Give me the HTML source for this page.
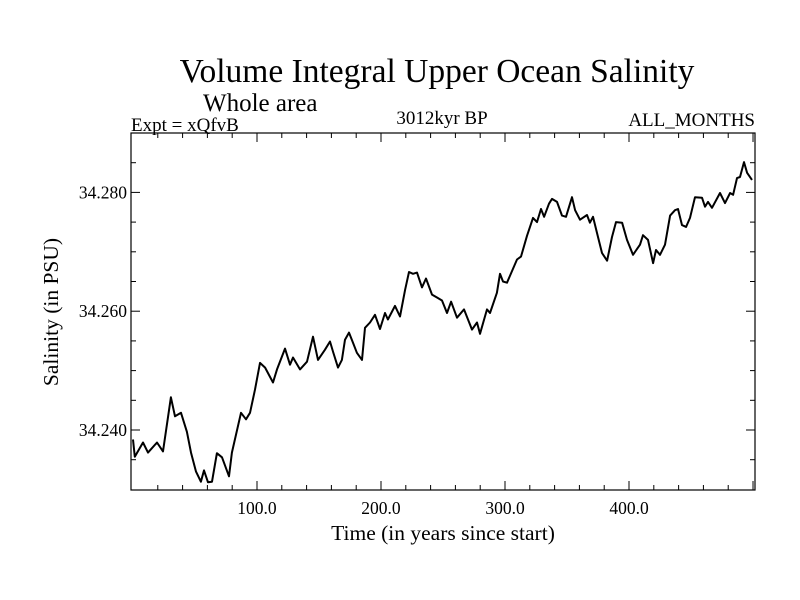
<!DOCTYPE html>
<html><head><meta charset="utf-8"><style>
body{margin:0;background:#fff;}
svg{display:block;font-family:"Liberation Serif",serif;}
</style></head><body>
<svg id="chart" width="800" height="600">
<text x="437" y="82" font-size="33.5" text-anchor="middle">Volume Integral Upper Ocean Salinity</text>
<text x="203" y="111" font-size="25">Whole area</text>
<text x="131" y="131" font-size="19">Expt = xQfvB</text>
<text x="442" y="124" font-size="19" text-anchor="middle">3012kyr BP</text>
<text x="755" y="126" font-size="19" text-anchor="end">ALL_MONTHS</text>
<text x="443" y="540" font-size="21.5" text-anchor="middle">Time (in years since start)</text>
<text transform="translate(58,312) rotate(-90)" font-size="21.5" text-anchor="middle">Salinity (in PSU)</text>
<rect x="131" y="133" width="624" height="357" fill="none" stroke="#000" stroke-width="1.2"/>
<g id="ticks"></g>
<path id="line" fill="none" stroke="#000" stroke-width="2" stroke-linejoin="round"/>
</svg>
<script>
const years=[0,1.5,8.1,12.1,19.4,24.2,30.6,33.9,38.7,43.5,46.8,50.8,54.8,57.3,60.5,63.7,67.7,71.8,77.4,79.8,87.1,91.1,94.4,98.4,102.4,106.5,112.9,116.1,122.6,126.6,129.0,134.7,140.3,145.2,149.2,154.8,158.9,161.3,165.3,168.5,171.0,174.2,177.4,180.6,184.7,187.1,191.1,195.2,199.2,203.2,205.6,211.3,215.3,219.4,222.6,225.8,229.0,233.1,236.3,241.1,245.2,249.2,253.2,256.5,261.3,266.9,273.4,277.4,279.8,285.5,287.9,293.5,296.0,298.4,301.6,309.7,312.9,317.7,322.6,325.8,329.0,331.5,335.5,337.9,341.9,346.0,349.2,354.0,356.5,360.5,366.1,368.5,371.0,375.0,378.2,382.3,386.3,389.5,394.4,398.4,403.2,408.9,411.3,415.3,419.4,421.8,425.0,429.0,433.1,437.1,439.5,442.7,446.0,449.2,453.2,458.9,461.3,463.7,466.9,473.4,477.4,481.5,483.9,487.1,489.5,492.7,495.2,499.2];
const salinity=[34.2384,34.2355,34.2379,34.2362,34.2379,34.2364,34.2455,34.2423,34.2429,34.2397,34.2362,34.2330,34.2313,34.2332,34.2312,34.2313,34.2361,34.2354,34.2322,34.2362,34.2429,34.2418,34.2429,34.2468,34.2513,34.2505,34.2480,34.2502,34.2537,34.2510,34.2522,34.2502,34.2515,34.2557,34.2518,34.2535,34.2549,34.2532,34.2505,34.2518,34.2552,34.2564,34.2547,34.2530,34.2518,34.2572,34.2581,34.2594,34.2570,34.2597,34.2586,34.2609,34.2591,34.2636,34.2666,34.2663,34.2665,34.2640,34.2655,34.2628,34.2623,34.2618,34.2597,34.2616,34.2589,34.2603,34.2569,34.2581,34.2562,34.2603,34.2597,34.2631,34.2663,34.2650,34.2648,34.2687,34.2692,34.2727,34.2757,34.2750,34.2772,34.2759,34.2781,34.2789,34.2784,34.2761,34.2759,34.2792,34.2770,34.2754,34.2762,34.2749,34.2759,34.2725,34.2698,34.2685,34.2725,34.2750,34.2749,34.2720,34.2695,34.2712,34.2728,34.2720,34.2681,34.2703,34.2695,34.2712,34.2761,34.2770,34.2772,34.2745,34.2742,34.2757,34.2792,34.2791,34.2776,34.2784,34.2774,34.2799,34.2782,34.2799,34.2796,34.2824,34.2826,34.2851,34.2833,34.2821];
const xMajor=[100,200,300,400];
const xTickLabels=["100.0","200.0","300.0","400.0"];
const yMajor=[34.24,34.26,34.28];
const yTickLabels=["34.240","34.260","34.280"];
const X0=131,X1=755,Y0=133,Y1=490,xMin=-1.6,xMax=501.6,yMin=34.2299,yMax=34.29;
const sx=v=>X0+(v-xMin)/(xMax-xMin)*(X1-X0);
const sy=v=>Y1-(v-yMin)/(yMax-yMin)*(Y1-Y0);
const NS="http://www.w3.org/2000/svg";
const g=document.getElementById('ticks');
function ln(x1,y1,x2,y2){const l=document.createElementNS(NS,'line');l.setAttribute('x1',x1);l.setAttribute('y1',y1);l.setAttribute('x2',x2);l.setAttribute('y2',y2);l.setAttribute('stroke','#000');l.setAttribute('stroke-width','1');


g.appendChild(l);}
function tx(x,y,s,a){const t=document.createElementNS(NS,'text');t.setAttribute('x',x);t.setAttribute('y',y);t.setAttribute('font-size','17.5');t.setAttribute('text-anchor',a);t.textContent=s;


g.appendChild(t);}
for(let v=20;v<=500;v+=20){const x=sx(v);const L=(v%100===0)?9:5;ln(x,Y1,x,Y1-L);ln(x,Y0,x,Y0+L);}
for(let k=0;k<=12;k++){const v=34.230+k*0.005;const y=sy(v);if(y<Y0+1||y>Y1-1)continue;const L=(k%4===2)?9:5;ln(X0,y,X0+L,y);ln(X1,y,X1-L,y);}
xMajor.forEach((v,i)=>tx(sx(v),514,xTickLabels[i],'middle'));
yMajor.forEach((v,i)=>tx(X0-4,sy(v)+6,yTickLabels[i],'end'));
document.getElementById('line').setAttribute('d',years.map((v,i)=>(i?'L':'M')+sx(v).toFixed(1)+','+sy(salinity[i]).toFixed(1)).join(''));
</script>
</body></html>
